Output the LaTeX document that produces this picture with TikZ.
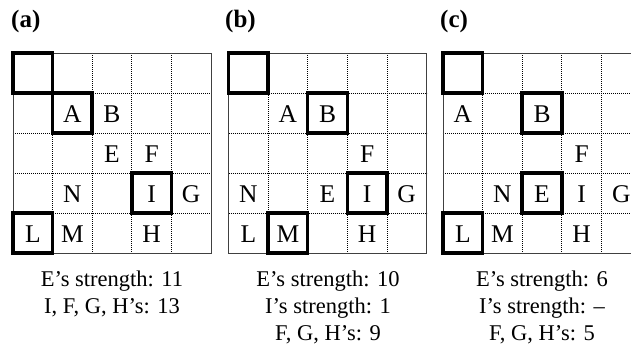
\documentclass[tikz,border=0pt]{standalone}
\usepackage{fontspec}
\setmainfont{Liberation Serif}
\begin{document}
\begin{tikzpicture}[x=1pt,y=-1pt,
  gridline/.style={black, line width=0.7pt, dash pattern=on 0.9pt off 1.1pt},
  frame/.style={draw=black!75, line width=0.9pt},
  hl/.style={draw=black, line width=3.5pt},
  lt/.style={font=\fontsize{25.5}{28}\selectfont, inner sep=0pt, anchor=center},
  capt/.style={font=\fontsize{22.5}{27}\selectfont, align=center, anchor=north, inner sep=0pt},
  lab/.style={font=\fontsize{25}{28}\selectfont\bfseries, anchor=north west, inner sep=0pt}]
\useasboundingbox (0,0) rectangle (631,360);
\clip (0,0) rectangle (631,360);
\def\cw{39.6}
\def\ch{40}
% grids
\foreach \gx in {13,228.5,443} {
  \begin{scope}[shift={(\gx,53)}]
    \foreach \i in {1,...,4} {
      \draw[gridline] (\i*\cw,0) -- (\i*\cw,5*\ch);
      \draw[gridline] (0,\i*\ch) -- (5*\cw,\i*\ch);
    }
    \draw[frame] (0,0) rectangle (5*\cw,5*\ch);
  \end{scope}
}
% (a)
\begin{scope}[shift={(13,53)}]
  \foreach \r/\c in {0/0,1/1,3/3,4/0}
    \draw[hl] (\c*\cw,\r*\ch) rectangle +(\cw,\ch);
  \foreach \r/\c/\L in {1/1/A,1/2/B,2/2/E,2/3/F,3/1/N,3/3/I,3/4/G,4/0/L,4/1/M,4/3/H}
    \node[lt] (a-\L) at ({(\c+0.5)*\cw},{(\r+0.5)*\ch+1}) {\L};
\end{scope}
% (b)
\begin{scope}[shift={(228.5,53)}]
  \foreach \r/\c in {0/0,1/2,3/3,4/1}
    \draw[hl] (\c*\cw,\r*\ch) rectangle +(\cw,\ch);
  \foreach \r/\c/\L in {1/1/A,1/2/B,2/3/F,3/0/N,3/2/E,3/3/I,3/4/G,4/0/L,4/1/M,4/3/H}
    \node[lt] (b-\L) at ({(\c+0.5)*\cw},{(\r+0.5)*\ch+1}) {\L};
\end{scope}
% (c)
\begin{scope}[shift={(443,53)}]
  \foreach \r/\c in {0/0,1/2,3/2,4/0}
    \draw[hl] (\c*\cw,\r*\ch) rectangle +(\cw,\ch);
  \foreach \r/\c/\L in {1/0/A,1/2/B,2/3/F,3/1/N,3/2/E,3/3/I,3/4/G,4/0/L,4/1/M,4/3/H}
    \node[lt] (c-\L) at ({(\c+0.5)*\cw},{(\r+0.5)*\ch+1}) {\L};
\end{scope}
% labels
\node[lab] (la) at (11,10) {(a)};
\node[lab] (lb) at (225,10) {(b)};
\node[lab] (lc) at (440,10) {(c)};
% captions
\node[capt] (ca) at (112,271) {E’s strength: 11\\I, F, G, H’s: 13};
\node[capt] (cb) at (328,271) {E’s strength: 10\\I’s strength: 1\\F, G, H’s: 9};
\node[capt] (cc) at (542,271) {E’s strength: 6\\I’s strength: –\\F, G, H’s: 5};
\end{tikzpicture}
\end{document}
